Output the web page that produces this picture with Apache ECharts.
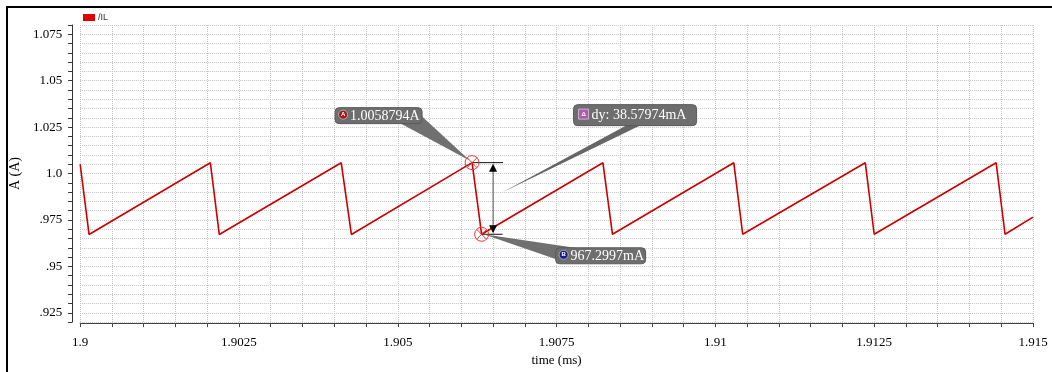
<!DOCTYPE html>
<html>
<head>
<meta charset="utf-8">
<script src="https://cdn.jsdelivr.net/npm/echarts@6/dist/echarts.min.js"></script>
<style>
html,body{margin:0;padding:0;background:#fff;}
#chart{width:1052px;height:372px;}
</style>
</head>
<body>
<div id="chart"></div>
<script>
// ---- data ----
const seriesName = '/IL';
const timeMs = [1.9, 1.90014, 1.90205, 1.90219, 1.90411, 1.90427, 1.90617, 1.90632,
                1.90823, 1.90838, 1.91029, 1.91043, 1.91236, 1.91250, 1.91442, 1.91456, 1.915];
const currentA = [1.0050, 0.9672, 1.0058, 0.9672, 1.0058, 0.9672, 1.0058794, 0.9672997,
                  1.0058, 0.9673, 1.0058, 0.9673, 1.0058, 0.9673, 1.0058, 0.9673, 0.9765];

const xTickValues = [1.9, 1.9025, 1.905, 1.9075, 1.91, 1.9125, 1.915];
const xTickLabels = ['1.9', '1.9025', '1.905', '1.9075', '1.91', '1.9125', '1.915'];
const yTickValues = [0.925, 0.95, 0.975, 1.0, 1.025, 1.05, 1.075];
const yTickLabels = ['.925', '.95', '.975', '1.0', '1.025', '1.05', '1.075'];

const markerTimes = [1.90617, 1.90632];
const markerValues = [1.0058794, 0.9672997];
const markerTexts = ['1.0058794A', '967.2997mA'];
const markerIcons = ['A', 'B'];
const deltaText = 'dy: 38.57974mA';

const xName = 'time (ms)';
const yName = 'A (A)';

// ---- chart ----
const chart = echarts.init(document.getElementById('chart'), null, {renderer: 'canvas'});
const serif = '"Liberation Serif", "Times New Roman", serif';

function lookup(values, labels, v) {
  for (let i = 0; i < values.length; i++) {
    if (Math.abs(values[i] - v) < 1e-7) return labels[i];
  }
  return '';
}

const gridLine = {show: true, lineStyle: {color: '#c4c4c4', width: 1, type: [1, 1]}};

chart.setOption({
  backgroundColor: '#ffffff',
  animation: false,
  legend: {
    left: 83, top: 13, padding: 0,
    itemWidth: 12, itemHeight: 7, itemGap: 4,
    data: [{name: seriesName, icon: 'rect'}],
    textStyle: {fontSize: 9, color: '#333', fontFamily: '"Liberation Sans", Arial, sans-serif', padding: [0, 0, 0, -2]}
  },
  grid: {left: 80, right: 19, top: 25, bottom: 47, containLabel: false},
  xAxis: {
    type: 'value', min: 1.9, max: 1.915, interval: 0.0005, offset: 1,
    name: xName, nameLocation: 'middle', nameGap: 26,
    nameTextStyle: {fontFamily: serif, fontSize: 13, color: '#000'},
    axisLine: {show: true, lineStyle: {color: '#444', width: 1}},
    axisTick: {show: true, length: 4, lineStyle: {color: '#444'}},
    axisLabel: {
      margin: 13, fontFamily: serif, fontSize: 13, color: '#000',
      formatter: v => lookup(xTickValues, xTickLabels, v)
    },
    splitLine: gridLine
  },
  yAxis: {
    type: 'value', min: 0.92, max: 1.08, interval: 0.005, offset: 8,
    name: yName, nameLocation: 'middle', nameGap: 43, nameRotate: 90,
    nameTextStyle: {fontFamily: serif, fontSize: 14, color: '#000'},
    axisLine: {show: true, lineStyle: {color: '#333', width: 1}},
    axisTick: {show: true, length: 4, lineStyle: {color: '#333'}},
    axisLabel: {
      margin: 10, fontFamily: serif, fontSize: 13, color: '#000',
      formatter: v => lookup(yTickValues, yTickLabels, v)
    },
    splitLine: gridLine
  },
  series: [{
    name: seriesName,
    type: 'line',
    data: timeMs.map((t, i) => [t, currentA[i]]),
    showSymbol: false,
    symbol: 'none',
    lineStyle: {color: '#cc0000', width: 1.6},
    itemStyle: {color: '#e00000'},
    z: 3
  }]
});

// ---- annotations (anchored to the data through the axes) ----
function labelBox(x, y, w, h, iconType, iconText, iconColor, text, fontSize) {
  const els = [];
  els.push({type: 'rect', shape: {x: x, y: y, width: w, height: h, r: 4},
            style: {fill: '#6e6e6e', stroke: '#5a5a5a', lineWidth: 1}, z: 20});
  const cy = y + h / 2;
  if (iconType === 'circle') {
    els.push({type: 'circle', shape: {cx: x + 8, cy: cy - 1, r: 4.5},
              style: {fill: iconColor, stroke: '#ddd', lineWidth: 0.6}, z: 21});
  } else {
    els.push({type: 'rect', shape: {x: x + 5, y: cy - 6, width: 10, height: 10},
              style: {fill: iconColor, stroke: '#eee', lineWidth: 0.6}, z: 21});
  }
  els.push({type: 'text', z: 22,
            style: {x: iconType === 'circle' ? x + 8 : x + 10, y: cy - 1, text: iconText,
                    fill: '#fff', font: 'bold 6px "Liberation Sans", sans-serif',
                    align: 'center', verticalAlign: 'middle', textAlign: 'center', textVerticalAlign: 'middle'}});
  els.push({type: 'text', z: 22,
            style: {x: iconType === 'circle' ? x + 15 : x + 18, y: cy + 0.5, text: text,
                    fill: '#fff', font: fontSize + 'px ' + serif,
                    align: 'left', verticalAlign: 'middle', textAlign: 'left', textVerticalAlign: 'middle'}});
  return els;
}

function marker(p) {
  const c = '#e23b3b';
  return [
    {type: 'circle', shape: {cx: p[0], cy: p[1], r: 7}, style: {fill: 'none', stroke: c, lineWidth: 1}, z: 15},
    {type: 'line', shape: {x1: p[0] - 5, y1: p[1] - 5, x2: p[0] + 5, y2: p[1] + 5}, style: {stroke: c, lineWidth: 1}, z: 15},
    {type: 'line', shape: {x1: p[0] - 5, y1: p[1] + 5, x2: p[0] + 5, y2: p[1] - 5}, style: {stroke: c, lineWidth: 1}, z: 15}
  ];
}

function buildGraphics() {
  const pA = chart.convertToPixel({gridIndex: 0}, [markerTimes[0], markerValues[0]]);
  const pB = chart.convertToPixel({gridIndex: 0}, [markerTimes[1], markerValues[1]]);
  const g = [];
  // outer frame (top and left edges visible in the reference)
  g.push({type: 'polyline', shape: {points: [[7, 372], [7, 7], [1052, 7]]},
          style: {fill: 'none', stroke: '#000', lineWidth: 2}, z: 30});

  // dimension arrow
  const xa = pA[0] + 21;
  g.push({type: 'line', shape: {x1: pA[0], y1: pA[1], x2: pA[0] + 31, y2: pA[1]}, style: {stroke: '#111', lineWidth: 1}, z: 12});
  g.push({type: 'line', shape: {x1: pB[0], y1: pB[1], x2: pB[0] + 21, y2: pB[1]}, style: {stroke: '#111', lineWidth: 1}, z: 12});
  g.push({type: 'line', shape: {x1: xa, y1: pA[1] + 6, x2: xa, y2: pB[1] - 6}, style: {stroke: '#555', lineWidth: 1}, z: 12});
  g.push({type: 'polygon', shape: {points: [[xa, pA[1] + 1], [xa - 4, pA[1] + 9], [xa + 4, pA[1] + 9]]}, style: {fill: '#000'}, z: 12});
  g.push({type: 'polygon', shape: {points: [[xa, pB[1] - 1], [xa - 4, pB[1] - 9], [xa + 4, pB[1] - 9]]}, style: {fill: '#000'}, z: 12});

  // label A
  const ax = pA[0] - 137, ay = pA[1] - 55;
  g.push({type: 'polygon', shape: {points: [[ax + 84, ay + 6], [ax + 66, ay + 16], [pA[0] - 2, pA[1] - 2]]},
          style: {fill: '#707070'}, z: 14});
  labelBox(ax, ay, 87, 16, 'circle', markerIcons[0], '#a01818', markerTexts[0], 14).forEach(e => g.push(e));

  // label B
  const bx = pB[0] + 74, by = pB[1] + 13.5;
  g.push({type: 'polygon', shape: {points: [[pB[0] + 2, pB[1]], [bx + 26, by + 1], [bx + 2, by + 12]]},
          style: {fill: '#707070'}, z: 14});
  labelBox(bx, by, 90, 16, 'circle', markerIcons[1], '#1a1a90', markerTexts[1], 14).forEach(e => g.push(e));

  // delta label
  const dx = pA[0] + 101.5, dy = pA[1] - 58;
  const tipY = (pA[1] + pB[1]) / 2 - 6;
  g.push({type: 'polygon', shape: {points: [[dx + 54, dy + 20], [dx + 68, dy + 20], [pA[0] + 30, tipY]]},
          style: {fill: '#666'}, z: 14});
  labelBox(dx, dy, 123, 21, 'square', '\u0394', '#b05ab0', deltaText, 14).forEach(e => g.push(e));

  marker(pA).forEach(e => g.push(e));
  marker(pB).forEach(e => g.push(e));
  chart.setOption({graphic: g});
}
buildGraphics();
</script>
</body>
</html>
